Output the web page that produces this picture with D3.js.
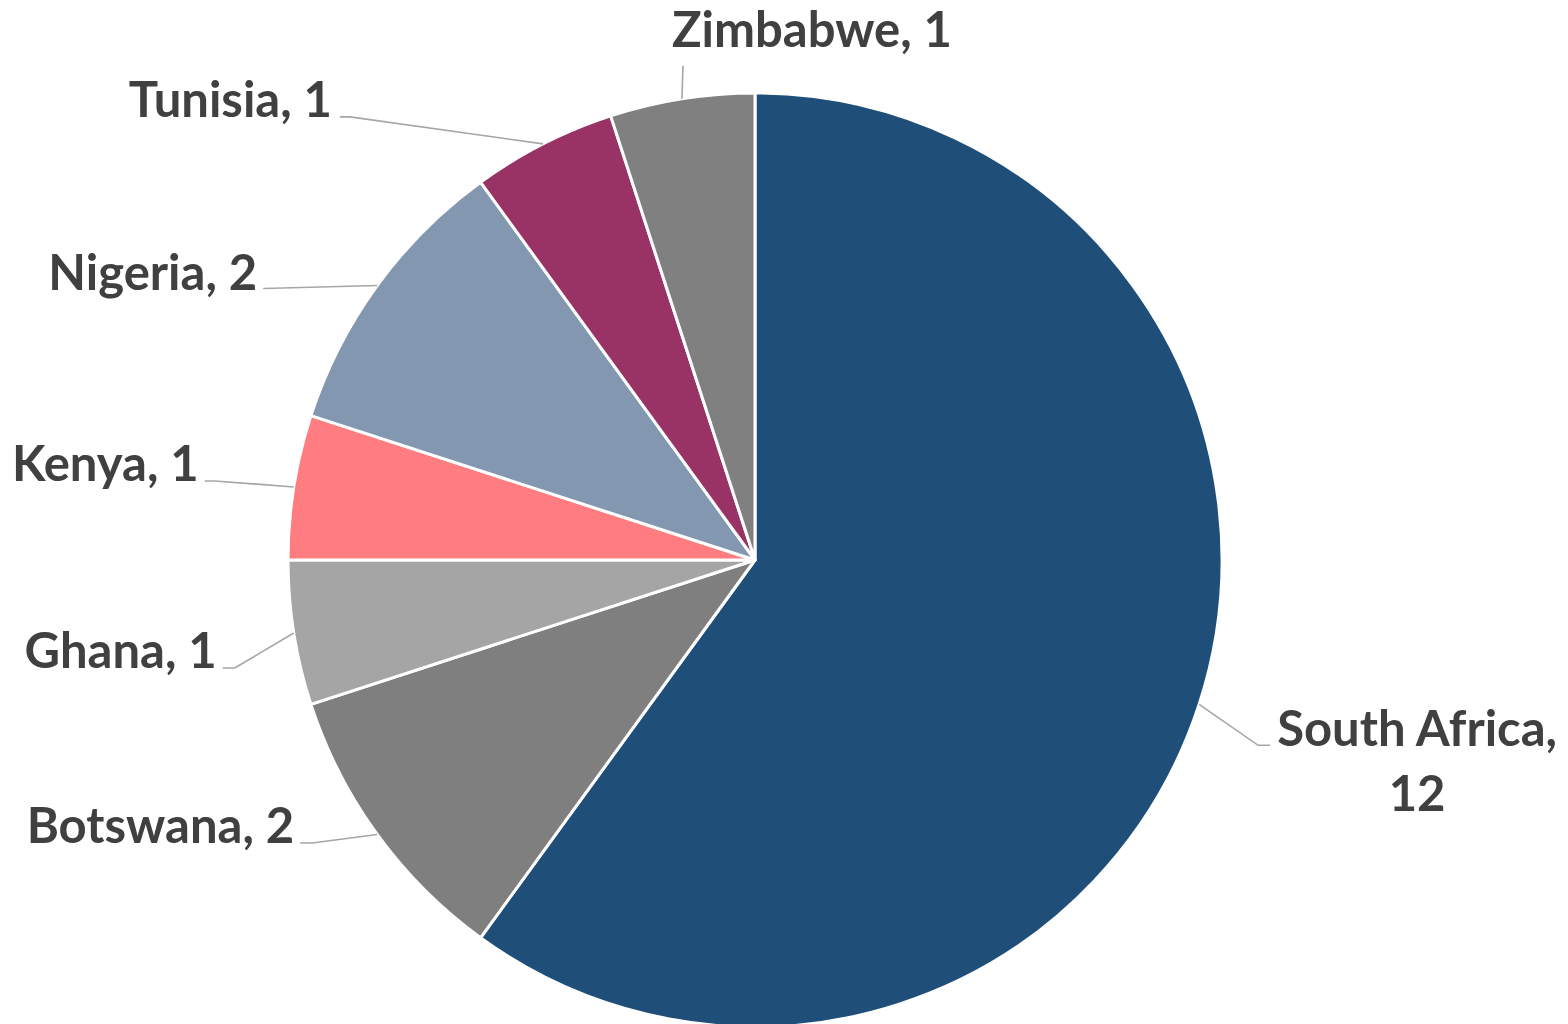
<!DOCTYPE html>
<html><head><meta charset="utf-8">
<script src="https://cdn.jsdelivr.net/npm/d3@7"></script>
<style>
html,body{margin:0;padding:0;background:#fff;}
svg{display:block;}
text{font-family:Lato,"Open Sans",sans-serif;font-weight:700;fill:#404040;}
</style></head>
<body>
<svg id="chart" width="1568" height="1024"></svg>
<script>
// ---- data ----
const countries = ["South Africa","Botswana","Ghana","Kenya","Nigeria","Tunisia","Zimbabwe"];
const counts    = [12, 2, 1, 1, 2, 1, 1];

// ---- styling / layout (not data) ----
const colors = ["#1F4E79","#7F7F7F","#A5A5A5","#FF7C80","#8497B0","#993366","#808080"];
// leader-line elbow offsets from slice edge, horizontal tail, text offset from tail end
const labelLayout = [
  {dx: 59,  dy: 41,  tail: 12,  tx: 7,   ty: 1,   anchor: "start", wrap: true},
  {dx: -65, dy: 8.5, tail: -12, tx: -6,  ty: 0,   anchor: "end"},
  {dx: -59, dy: 35,  tail: -12, tx: -6,  ty: 0,   anchor: "end"},
  {dx: -79, dy: -6,  tail: -10, tx: -6,  ty: 0,   anchor: "end"},
  {dx: -114,dy: 3,   tail: 0,   tx: -6,  ty: 1,   anchor: "end"},
  {dx: -193,dy: -27, tail: -10, tx: -8,  ty: 0,   anchor: "end"},
  {dx: 1,   dy: -33, tail: 0,   tx: 129, ty: -19, anchor: "middle"}
];

const cx = 755, cy = 560, R = 467;
const svg = d3.select("#chart");
const g = svg.append("g").attr("transform", `translate(${cx},${cy})`);

const data = countries.map((c, i) => ({name: c, value: counts[i], i}));
const pie = d3.pie().value(d => d.value).sort(null);
const arcs = pie(data);
const arc = d3.arc().innerRadius(0).outerRadius(R);

g.selectAll("path.slice").data(arcs).join("path")
  .attr("class", "slice")
  .attr("d", arc)
  .attr("fill", d => colors[d.data.i])
  .attr("stroke", "#fff")
  .attr("stroke-width", 3)
  .attr("stroke-linejoin", "round");

const fontSize = 49;
arcs.forEach(a => {
  const L = labelLayout[a.data.i];
  const mid = (a.startAngle + a.endAngle) / 2;
  const ex = R * Math.sin(mid), ey = -R * Math.cos(mid);
  const bx = ex + L.dx, by = ey + L.dy;
  const tx = bx + L.tail, ty = by;
  g.append("polyline")
    .attr("points", [[ex, ey], [bx, by], [tx, ty]].map(p => p.join(",")).join(" "))
    .attr("fill", "none").attr("stroke", "#A6A6A6").attr("stroke-width", 1.6);
  const label = `${a.data.name}, ${a.data.value}`;
  if (L.wrap) {
    const t = g.append("text")
      .attr("x", tx + L.tx).attr("y", ty + L.ty)
      .attr("font-size", fontSize).attr("text-anchor", "start")
      .text(`${a.data.name},`);
    const w = t.node().getComputedTextLength();
    g.append("text")
      .attr("x", tx + L.tx + w / 2).attr("y", ty + L.ty + 65)
      .attr("font-size", fontSize).attr("text-anchor", "middle")
      .text(a.data.value);
  } else {
    g.append("text")
      .attr("x", tx + L.tx).attr("y", ty + L.ty)
      .attr("font-size", fontSize).attr("text-anchor", L.anchor)
      .text(label);
  }
});
</script>
</body></html>
